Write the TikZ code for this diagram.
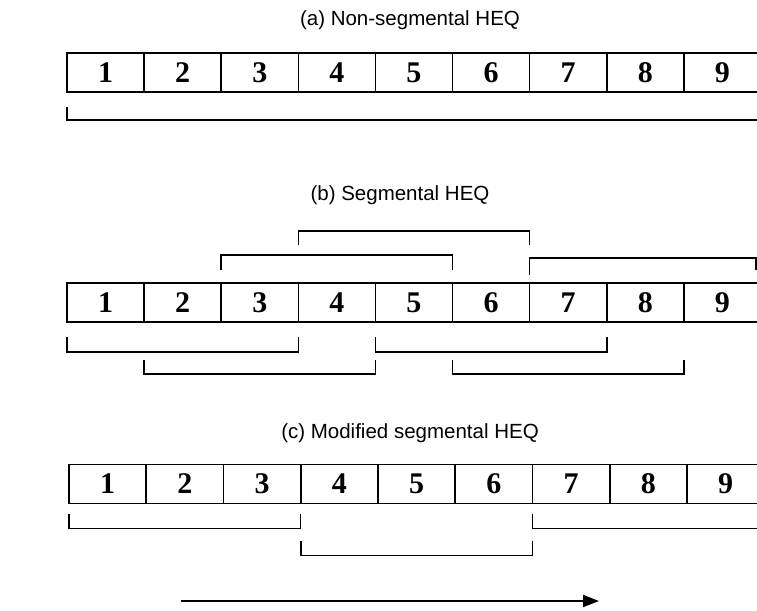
\documentclass[tikz,border=0pt]{standalone}
\usepackage{fontspec}
\setmainfont{Liberation Serif}
\setsansfont{Liberation Sans}
\usetikzlibrary{arrows.meta}

\begin{document}
\begin{tikzpicture}[
    x=1pt, y=-1pt,
    cell/.style={draw, line width=1.6pt, fill=white, minimum width=77.1pt,
                 minimum height=39pt, inner sep=0pt, outer sep=0pt,
                 font=\fontsize{30}{30}\selectfont\bfseries},
    caption/.style={font=\sffamily\fontsize{20.5}{23}\selectfont},
    span/.style={line width=1.6pt},
    flow/.style={-{Triangle[length=16pt,width=12pt]}, line width=1.8pt}
  ]
  \path[use as bounding box] (0,0) rectangle (757,610);
  \clip (0,0) rectangle (757,610);

  % (a) one range over the whole row
  \node[caption] (capa) at (410,20) {(a) Non-segmental HEQ};
  \foreach \i in {1,...,9}
    \node[cell] (a\i) at ({105.55+77.1*(\i-1)},72.5) {\i};
  \draw[span] ([yshift=-15pt]a1.south west) |- ([yshift=-28pt]a9.south east);

  % (b) overlapping segments
  \node[caption] (capb) at (400,195) {(b) Segmental HEQ};
  \foreach \i in {1,...,9}
    \node[cell] (b\i) at ({105.55+77.1*(\i-1)},302.5) {\i};

  \draw[span] ([yshift=38pt]b4.north west) |- ([yshift=52pt]b7.north west)
    -- ([yshift=38pt]b7.north west);
  \draw[span] ([yshift=13pt]b3.north west) |- ([yshift=28pt]b6.north west)
    -- ([yshift=13pt]b6.north west);
  \draw[span] ([yshift=8pt]b7.north west) |- ([xshift=-5pt,yshift=25pt]b9.north east)
    -- ([xshift=-5pt,yshift=13pt]b9.north east);

  \draw[span] ([yshift=-15pt]b1.south west) |- ([yshift=-30pt]b3.south east)
    -- ([yshift=-15pt]b3.south east);
  \draw[span] ([yshift=-38pt]b2.south west) |- ([yshift=-52pt]b4.south east)
    -- ([yshift=-38pt]b4.south east);
  \draw[span] ([yshift=-15pt]b5.south west) |- ([yshift=-30pt]b7.south east)
    -- ([yshift=-15pt]b7.south east);
  \draw[span] ([yshift=-38pt]b6.south west) |- ([yshift=-52pt]b8.south east)
    -- ([yshift=-38pt]b8.south east);

  % (c) modified segments
  \node[caption] (capc) at (410,433) {(c) Modified segmental HEQ};
  \foreach \i in {1,...,9}
    \node[cell] (c\i) at ({107.6+77.25*(\i-1)},484) {\i};

  \draw[span] ([yshift=-10pt]c1.south west) |- ([yshift=-25pt]c3.south east)
    -- ([yshift=-10pt]c3.south east);
  \draw[span] ([yshift=-37pt]c4.south west) |- ([yshift=-52pt]c6.south east)
    -- ([yshift=-37pt]c6.south east);
  \draw[span] ([yshift=-10pt]c7.south west) |- ([yshift=-25pt]c9.south east);

  \coordinate (flowstart) at (181,601);
  \coordinate (flowend) at (599,601);
  \draw[flow] (flowstart) -- (flowend);
\end{tikzpicture}
\end{document}
